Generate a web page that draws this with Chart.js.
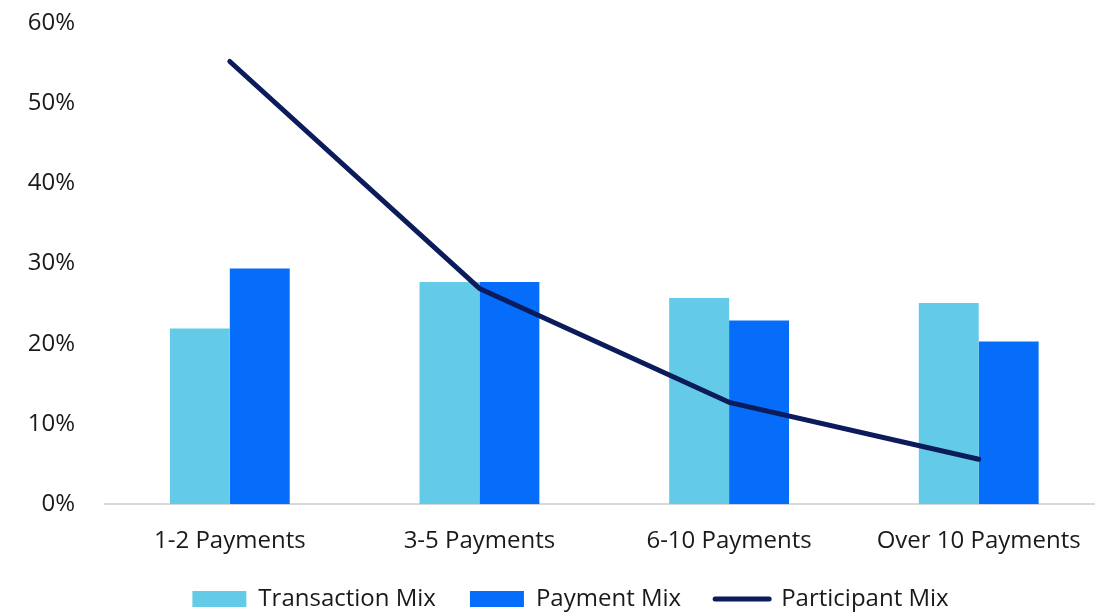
<!DOCTYPE html>
<html>
<head>
<meta charset="utf-8">
<script src="https://cdn.jsdelivr.net/npm/chart.js@4/dist/chart.umd.min.js"></script>
<style>
  html, body { margin: 0; padding: 0; background: #fff; overflow: hidden; }
  #wrap { width: 1095px; height: 615px; position: relative; }
</style>
</head>
<body>
<div id="wrap"><canvas id="mixChart"></canvas></div>
<script>
// Payment-count buckets and the share of each mix (percent)
const categories = ['1-2 Payments', '3-5 Payments', '6-10 Payments', 'Over 10 Payments'];
const transactionMix = [21.9, 27.7, 25.7, 25.1];
const paymentMix = [29.4, 27.7, 22.9, 20.3];
const participantMix = [55.2, 26.9, 12.7, 5.6];
const yTicks = [0, 10, 20, 30, 40, 50, 60];

const FONT = '"Open Sans", "Noto Sans", sans-serif';
const TEXT = '#1a1a1a';
const PLOT_OVERHANG = 10; // category axis runs a little past the right edge

// Keeps the legend compact in the layout, nudges it under the plot,
// and lets the category axis run past the canvas edge
const layoutTweaks = {
    id: 'layoutTweaks',
    beforeInit(chart) {
        const legend = chart.legend;
        const fit = legend.fit;
        legend.fit = function() {
            fit.call(this);
            this.height = 36;
        };
    },
    afterLayout(chart) {
        const legend = chart.legend;
        legend.left += 23;
        legend.right += 23;
        legend.top -= 26;

        const x = chart.scales.x;
        x.right += PLOT_OVERHANG;
        x.width += PLOT_OVERHANG;
        x.configure();
        chart.chartArea.right += PLOT_OVERHANG;
        chart.chartArea.width += PLOT_OVERHANG;
    }
};

document.addEventListener('DOMContentLoaded', function() {
    Chart.defaults.font.family = FONT;
    Chart.defaults.color = TEXT;

    const ctx = document.getElementById('mixChart').getContext('2d');

    new Chart(ctx, {
        type: 'bar',
        data: {
            labels: categories,
            datasets: [
                {
                    label: 'Transaction Mix',
                    data: transactionMix,
                    backgroundColor: '#63CBE8',
                    barPercentage: 1.0,
                    categoryPercentage: 0.48,
                    order: 1
                },
                {
                    label: 'Payment Mix',
                    data: paymentMix,
                    backgroundColor: '#066CFA',
                    barPercentage: 1.0,
                    categoryPercentage: 0.48,
                    order: 1
                },
                {
                    type: 'line',
                    label: 'Participant Mix',
                    data: participantMix,
                    borderColor: '#0B1B5C',
                    backgroundColor: '#0B1B5C',
                    borderWidth: 5,
                    borderCapStyle: 'round',
                    borderJoinStyle: 'round',
                    pointRadius: 0,
                    tension: 0,
                    fill: false,
                    order: 0
                }
            ]
        },
        plugins: [layoutTweaks],
        options: {
            responsive: true,
            maintainAspectRatio: false,
            animation: false,
            layout: {
                padding: { top: 0, left: 0, right: 0, bottom: 0 }
            },
            plugins: {
                tooltip: { enabled: false },
                legend: {
                    position: 'bottom',
                    labels: {
                        font: { size: 24 },
                        color: TEXT,
                        usePointStyle: true,
                        pointStyleWidth: 54,
                        boxHeight: 16,
                        padding: 34,
                        generateLabels: function(chart) {
                            return chart.data.datasets.map(function(ds, i) {
                                const isLine = ds.type === 'line';
                                return {
                                    text: ds.label,
                                    datasetIndex: i,
                                    fillStyle: ds.backgroundColor,
                                    strokeStyle: isLine ? ds.borderColor : ds.backgroundColor,
                                    lineWidth: isLine ? 5 : 0,
                                    lineCap: 'round',
                                    pointStyle: isLine ? 'line' : 'rect',
                                    fontColor: TEXT,
                                    hidden: false
                                };
                            });
                        }
                    }
                }
            },
            scales: {
                x: {
                    grid: { display: false, drawTicks: false },
                    border: { display: true, color: '#D9D9D9', width: 2 },
                    ticks: {
                        font: { size: 24 },
                        color: TEXT,
                        padding: 23,
                        maxRotation: 0
                    }
                },
                y: {
                    min: 0,
                    max: 60,
                    afterFit: function(scale) {
                        scale.width = 105;
                        scale.paddingTop = 23;
                        scale.paddingBottom = 0;
                    },
                    afterBuildTicks: function(scale) {
                        scale.ticks = yTicks.map(v => ({ value: v }));
                    },
                    grid: { display: false, drawTicks: false },
                    border: { display: false },
                    ticks: {
                        font: { size: 24 },
                        color: TEXT,
                        padding: 30,
                        callback: function(value) { return value + '%'; }
                    }
                }
            }
        }
    });
});
</script>
</body>
</html>
